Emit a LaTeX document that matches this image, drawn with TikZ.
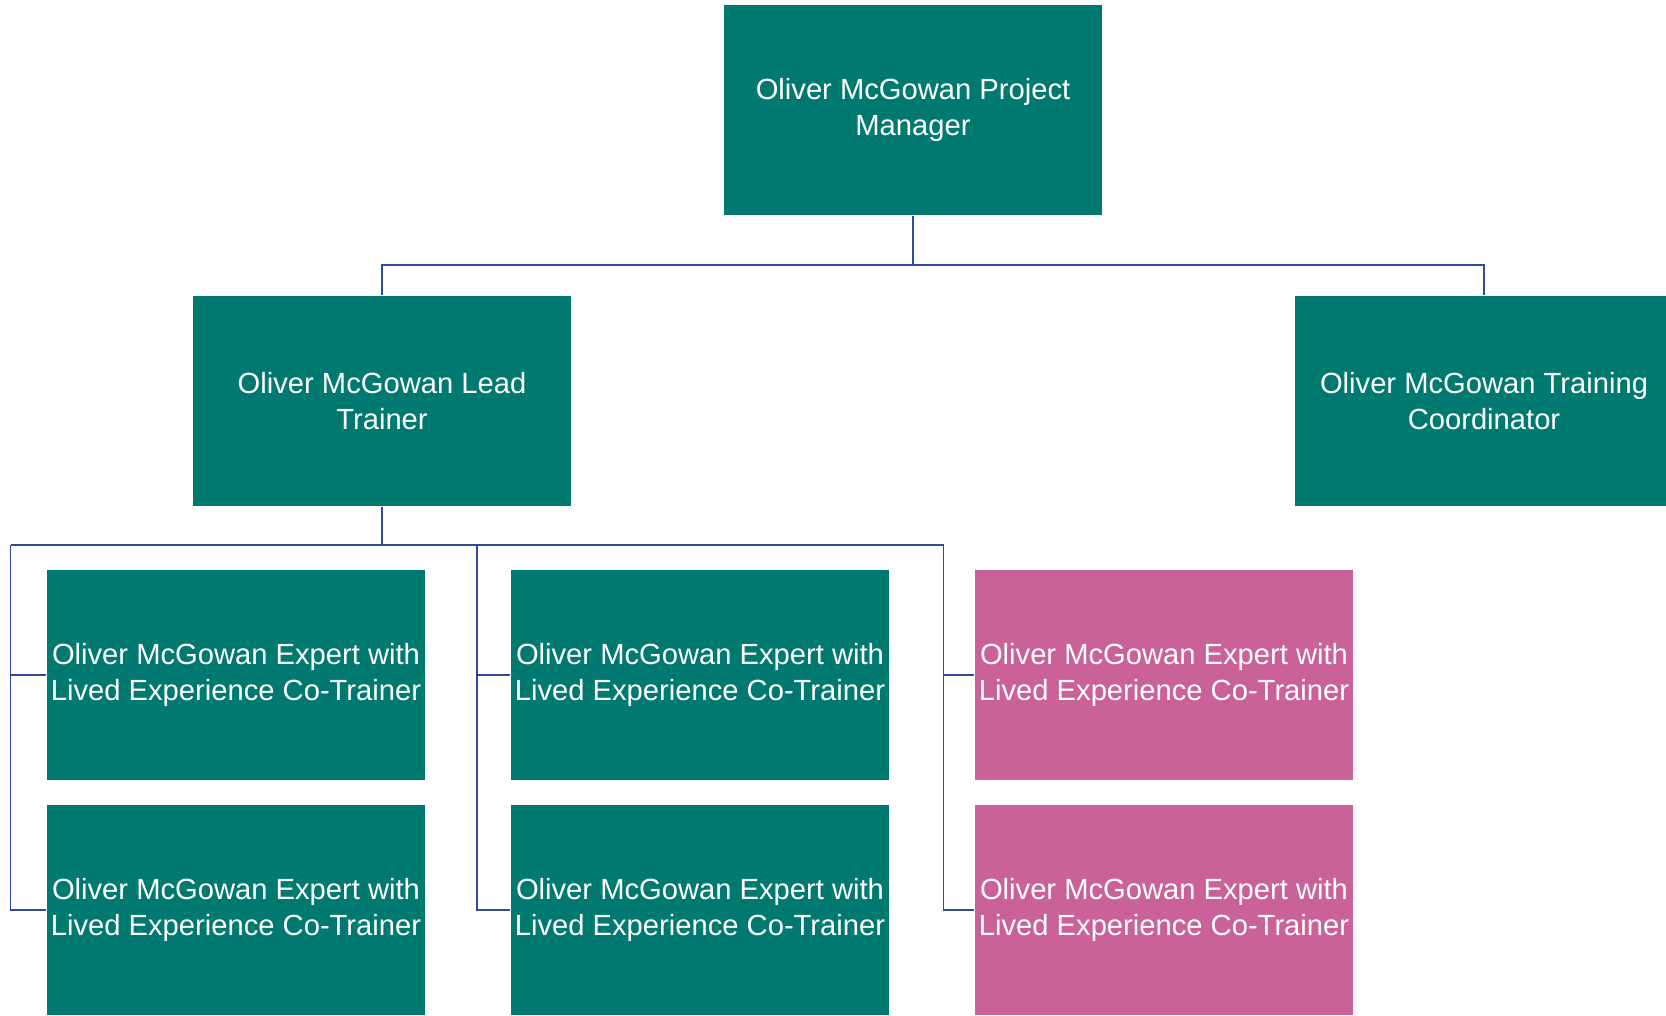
\documentclass[tikz,border=0pt]{standalone}
\usepackage{fontspec}
\setmainfont{Liberation Sans}
\usepackage{xcolor}
\usepackage{tikz}
\usetikzlibrary{calc,positioning}
\definecolor{teal}{HTML}{007A70}
\definecolor{rose}{HTML}{CA6299}
\definecolor{wire}{HTML}{2E4A9A}
\tikzset{
  post/.style={rectangle, fill=teal, text=white, align=center, inner sep=0pt,
    minimum width=3.78cm, minimum height=2.10cm, font=\fontsize{8.3}{10}\selectfont},
  postr/.style={post, fill=rose},
  link/.style={draw=wire, line width=0.45pt},
}

\begin{document}
\begin{tikzpicture}
  \useasboundingbox (0,0) rectangle (16.66,10.15);
  \pgfmathsetmacro{\busA}{7.50}
  \pgfmathsetmacro{\busB}{4.70}

  \node[post] (pm) at (9.13,9.05) {Oliver McGowan Project\\Manager};
  \node[post] (lead) at (3.82,6.14) {Oliver McGowan Lead\\Trainer};
  \node[post] (coord) at (14.84,6.14) {Oliver McGowan Training\\Coordinator};

  \node[post] (e11) at (2.36,3.40) {Oliver McGowan Expert with\\Lived Experience Co-Trainer};
  \node[post] (e12) at (2.36,1.05) {Oliver McGowan Expert with\\Lived Experience Co-Trainer};
  \node[post] (e21) at (7.00,3.40) {Oliver McGowan Expert with\\Lived Experience Co-Trainer};
  \node[post] (e22) at (7.00,1.05) {Oliver McGowan Expert with\\Lived Experience Co-Trainer};
  \node[postr] (e31) at (11.64,3.40) {Oliver McGowan Expert with\\Lived Experience Co-Trainer};
  \node[postr] (e32) at (11.64,1.05) {Oliver McGowan Expert with\\Lived Experience Co-Trainer};

  \coordinate (sp1) at (0.106,\busB);
  \coordinate (sp2) at (4.77,\busB);
  \coordinate (sp3) at (9.435,\busB);

  \draw[link] (pm.south) -- (pm.south |- 0,\busA) -| (lead.north);
  \draw[link] (pm.south |- 0,\busA) -| (coord.north);

  \draw[link] (lead.south) -- (lead.south |- sp1);
  \draw[link] (sp1) -- (sp3);
  \foreach \s/\a/\b in {sp1/e11/e12, sp2/e21/e22, sp3/e31/e32} {
    \draw[link] (\s) |- (\b.west);
    \draw[link] (\s |- \a.west) -- (\a.west);
  }
\end{tikzpicture}
\end{document}
